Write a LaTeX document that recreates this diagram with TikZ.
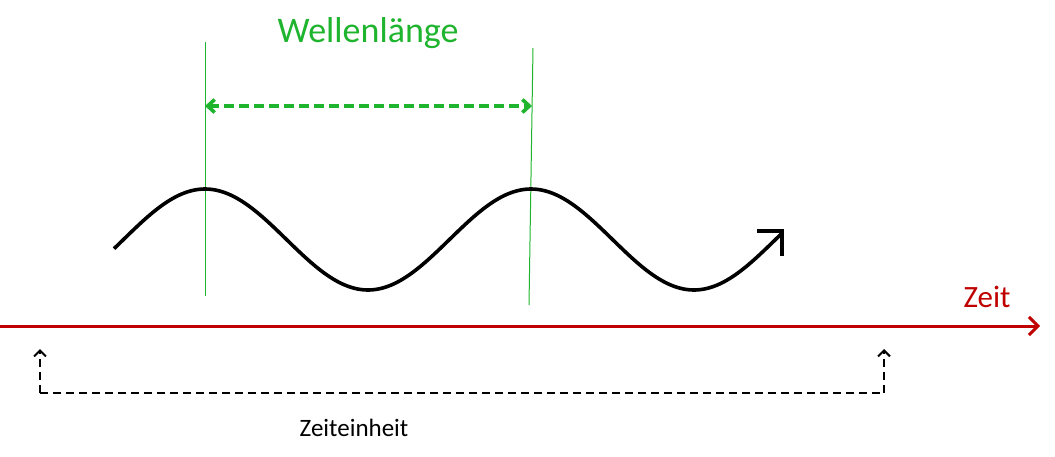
\documentclass[tikz,border=0pt]{standalone}
\usepackage{fontspec}
\setmainfont{Carlito}
\usetikzlibrary{arrows.meta}
\definecolor{wgreen}{RGB}{30,180,45}
\definecolor{axred}{RGB}{192,0,0}
\begin{document}
\begin{tikzpicture}[x=1pt,y=-1pt,
  guide/.style={wgreen,line width=1pt},
  wave/.style={black,line width=3.6pt},
  axis/.style={axred,line width=3pt,-{Straight Barb[length=9pt,width=18pt,line width=3pt]}},
  wl/.style={wgreen,line width=3.6pt,dash pattern=on 10pt off 5pt,{Straight Barb[length=7pt,width=13pt,line width=3.6pt]}-{Straight Barb[length=7pt,width=13pt,line width=3.6pt]}},
  unit/.style={black,line width=2pt,dash pattern=on 8pt off 5pt,-{Straight Barb[length=6pt,width=12pt,line width=2pt]}}
]
\useasboundingbox (0,0) rectangle (1055,457);
% guide lines
\coordinate (g1t) at (205,42); \coordinate (g1b) at (205,296);
\coordinate (g2t) at (533,48); \coordinate (g2b) at (529,305);
\draw[guide] (g1t) -- (g1b);
\draw[guide] (g2t) -- (g2b);
% wavelength arrow
\coordinate (wa) at (205,106); \coordinate (wb) at (532,106);
\draw[wl] (wa) -- (wb);
\node[wgreen,font=\fontsize{36}{38}\selectfont] (wlt) at (368,33) {Wellenlänge};
% wave
\draw[wave,line join=round] plot[domain=114:781,samples=220] ({\x},{239.5-50.5*cos((\x-205)*1.104294)});
\coordinate (tip) at (782,231);
\draw[wave] (757,231) -- (tip) -- (782,256);
% time axis
\coordinate (a0) at (0,326); \coordinate (a1) at (1040,326);
\draw[axis] (a0) -- (a1);
\node[axred,font=\fontsize{31}{33}\selectfont] (zt) at (987,297) {Zeit};
% time unit
\coordinate (u0) at (40,349); \coordinate (u1) at (40,393);
\coordinate (u2) at (884,393); \coordinate (u3) at (884,349);
\draw[unit] (u1) -- (u0);
\draw[unit] (u2) -- (u3);
\draw[black,line width=2pt,dash pattern=on 8pt off 5pt] (u1) -- (u2);
\node[font=\fontsize{25}{27}\selectfont] (ze) at (354,428) {Zeiteinheit};
\end{tikzpicture}
\end{document}
